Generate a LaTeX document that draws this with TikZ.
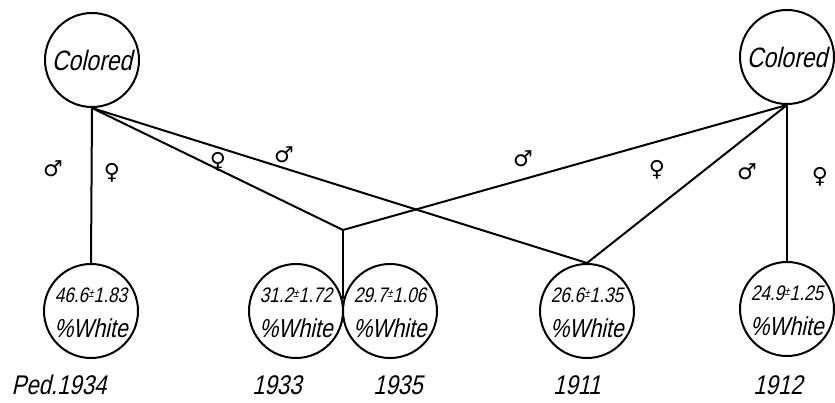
\documentclass[tikz,border=0pt]{standalone}
\usepackage{fontspec}
\newfontfamily\hand{Liberation Sans}[FakeStretch=0.82,FakeSlant=0.22]
\newfontfamily\symf{DejaVu Sans}
\newcommand{\pmsup}{\raisebox{0.45ex}{\fontsize{12}{12}\selectfont ±}}
\begin{document}
\begin{tikzpicture}[x=1pt,y=-1pt,
  circ/.style={circle,draw,line width=2pt,minimum size=94pt,inner sep=0pt,align=center,font=\hand},
  numtxt/.style={font=\hand\fontsize{21}{21}\selectfont,anchor=base,inner sep=0pt},
  whtxt/.style={font=\hand\fontsize{26}{26}\selectfont,anchor=base,inner sep=0pt},
  conn/.style={line width=2pt},
  sym/.style={font=\symf\fontsize{22}{22}\selectfont,inner sep=0pt},
  year/.style={font=\hand\fontsize{27}{27}\selectfont,anchor=base,inner sep=0pt}]
\useasboundingbox (0,0) rectangle (835,402);
\node[circ] (cL) at (92,60) {\fontsize{28}{28}\selectfont Colored};
\node[circ] (cR) at (787,57) {\fontsize{28}{28}\selectfont Colored};
\node[circ] (w1) at (91,311) {};
\node[circ] (w2) at (296,311) {};
\node[circ] (w3) at (390,311) {};
\node[circ] (w4) at (587,311) {};
\node[circ] (w5) at (787,309) {};
\foreach \n/\v in {w1/46.6\pmsup1.83, w2/31.2\pmsup1.72, w3/29.7\pmsup1.06, w4/26.6\pmsup1.35, w5/24.9\pmsup1.25}{
  \node[numtxt] (\n num) at ([yshift=9pt]\n.center) {\v};
  \node[whtxt] (\n wh) at ([yshift=-26pt]\n.center) {\%White};
}
\coordinate (J) at (343,230);
\coordinate (T) at (343,299);
\draw[conn] (cL.south) -- (w1.north);
\draw[conn] (cL.south) -- (J);
\draw[conn] (cR.south) -- (J);
\draw[conn] (J) -- (T);
\draw[conn] (cL.south) -- (w4.north);
\draw[conn] (cR.south) -- (w4.north);
\draw[conn] (cR.south) -- (w5.north);
\node[sym] (s1) at (53,169) {♂};
\node[sym] (s2) at (112,173) {♀};
\node[sym] (s3) at (218,162) {♀};
\node[sym] (s4) at (284,155) {♂};
\node[sym] (s5) at (523,159) {♂};
\node[sym] (s6) at (657,170) {♀};
\node[sym] (s7) at (747,172) {♂};
\node[sym] (s8) at (820,177) {♀};
\node[year] (y1) at (59,394) {Ped.1934};
\node[year] (y2) at (277,394) {1933};
\node[year] (y3) at (398,394) {1935};
\node[year] (y4) at (577,394) {1911};
\node[year] (y5) at (778,394) {1912};
\end{tikzpicture}
\end{document}
